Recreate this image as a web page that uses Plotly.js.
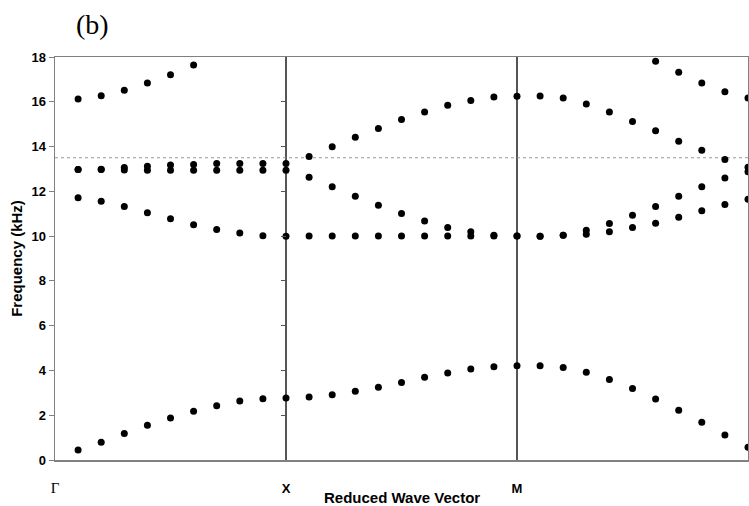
<!DOCTYPE html>
<html>
<head>
<meta charset="utf-8">
<script src="https://cdn.plot.ly/plotly-3.0.1.min.js"></script>
<style>html,body{margin:0;padding:0;background:#fff;}#chart{width:749px;height:506px;}</style>
</head>
<body>
<div id="chart"></div>
<script>
// Reduced wave vector index: Γ-X (1..10), X-M (11..20), M-Γ (21..30)
var waveIndex = [1,2,3,4,5,6,7,8,9,10,11,12,13,14,15,16,17,18,19,20,21,22,23,24,25,26,27,28,29,30];

// Frequencies (kHz), one array per band
var band1 = [0.45,0.79,1.18,1.55,1.88,2.18,2.42,2.63,2.74,2.77,
             2.81,2.91,3.07,3.25,3.46,3.70,3.89,4.06,4.16,4.21,
             4.21,4.13,3.92,3.59,3.19,2.73,2.22,1.69,1.12,0.57];
var band2 = [11.71,11.56,11.32,11.04,10.78,10.51,10.30,10.14,10.02,9.99,
             10.0,10.0,10.0,10.0,10.0,10.0,10.0,10.0,10.0,10.0,
             9.99,10.04,10.08,10.20,10.38,10.57,10.84,11.13,11.41,11.65];
var band3 = [12.97,12.97,12.95,12.94,12.94,12.94,12.94,12.94,12.94,12.94,
             12.63,12.21,11.78,11.38,11.01,10.68,10.38,10.19,10.04,10.0,
             9.99,10.04,10.26,10.56,10.93,11.32,11.78,12.21,12.59,12.87];
var band4 = [12.97,12.99,13.06,13.12,13.18,13.20,13.24,13.24,13.24,13.24,
             13.56,13.99,14.42,14.81,15.21,15.54,15.85,16.06,16.21,16.25,
             16.26,16.17,15.90,15.54,15.12,14.71,14.24,13.83,13.42,13.08];
var band5 = [16.12,16.27,16.51,16.84,17.21,17.64,null,null,null,null,
             null,null,null,null,null,null,null,null,null,null,
             null,null,null,null,null,17.81,17.32,16.84,16.45,16.17];

var cutoffFreq = 13.5;
var cutoffSpan = [0, 30];

var gammaLabel = '<span style="font-family:\'Liberation Serif\',\'Times New Roman\',serif;font-weight:normal;font-size:15px">Γ</span>';
var symTickVals = [0, 10, 20, 30];
var symTickText = [gammaLabel, 'X', 'M', gammaLabel];
var freqTicks = [0,2,4,6,8,10,12,14,16,18];

var bands = [band1, band2, band3, band4, band5];
var traces = [];
traces.push({
  x: cutoffSpan, y: [cutoffFreq, cutoffFreq], mode: 'lines', type: 'scatter',
  line: {color: '#999', width: 1, dash: 'dot'}, hoverinfo: 'skip', showlegend: false
});
bands.forEach(function (b, i) {
  traces.push({
    x: waveIndex, y: b, mode: 'markers', type: 'scatter',
    yaxis: i === 0 ? 'y2' : 'y',
    marker: {color: '#000', size: 7, line: {width: 0}},
    showlegend: false
  });
});

var axisFont = {family: 'Liberation Sans, Arial, sans-serif', size: 13, color: '#000', weight: 700};
var titleFont = {family: 'Liberation Sans, Arial, sans-serif', size: 15, color: '#000', weight: 700};

var layout = {
  width: 749, height: 506,
  margin: {l: 55, r: 1, t: 57, b: 46},
  paper_bgcolor: '#fff', plot_bgcolor: '#fff',
  showlegend: false,
  xaxis: {
    range: [0, 30], tickmode: 'array', tickvals: symTickVals, ticktext: symTickText,
    ticks: '', ticklabelstandoff: 16, tickfont: axisFont,
    showgrid: true, gridcolor: '#555', gridwidth: 1.3,
    showline: true, linecolor: '#808080', linewidth: 1.5, mirror: true,
    zeroline: false, fixedrange: true
  },
  yaxis: {
    range: [0, 18], tickmode: 'array', tickvals: freqTicks,
    ticks: 'outside', ticklen: 5, tickcolor: '#808080', tickwidth: 1,
    tickfont: axisFont, showgrid: false, zeroline: false,
    showline: true, linecolor: '#808080', linewidth: 1.5, mirror: true,
    title: {text: 'Frequency (kHz)', font: titleFont, standoff: 5},
    fixedrange: true
  },
  yaxis2: {
    matches: 'y', overlaying: 'y', anchor: 'free', position: 1/3, side: 'right',
    tickmode: 'array', tickvals: freqTicks,
    ticks: 'inside', ticklen: 5, tickcolor: '#555', tickwidth: 1,
    showticklabels: false, showgrid: false, zeroline: false, showline: false,
    fixedrange: true
  },
  annotations: [
    {text: 'Reduced Wave Vector', xref: 'paper', yref: 'paper', x: 0.5, y: 0,
     xanchor: 'center', yanchor: 'middle', yshift: -37, showarrow: false,
     font: titleFont},
    {text: '(b)', xref: 'paper', yref: 'paper', x: 0, y: 1, xshift: 37, yshift: 33,
     xanchor: 'center', yanchor: 'middle', showarrow: false,
     font: {family: 'Liberation Serif, Times New Roman, serif', size: 28, color: '#000'}}
  ]
};

Plotly.newPlot('chart', traces, layout, {displayModeBar: false, staticPlot: true});
</script>
</body>
</html>
